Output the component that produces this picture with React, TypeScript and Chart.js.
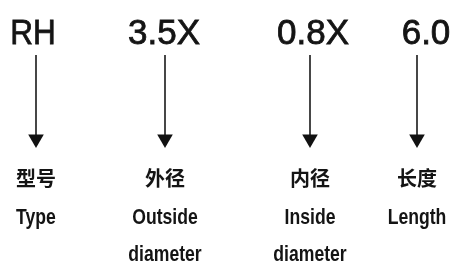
import React, { useEffect, useRef } from "react";
import { Chart, registerables } from "chart.js";

Chart.register(...registerables);

// Model code parts and their meanings
const codes = ["RH", "3.5X", "0.8X", "6.0"];
const namesZh = ["型号", "外径", "内径", "长度"];
const namesEn = [["Type"], ["Outside", "diameter"], ["Inside", "diameter"], ["Length"]];
// horizontal position of each part along the code (layout units)
const partPos = [36, 165, 310, 417];
const codeShift = [-3, -1, 3, 9];

const W = 451;
const H = 266;
const ARROW_TOP = 55;
const ARROW_END = 139;

const textPlugin = {
  id: "codeText",
  afterDatasetsDraw(chart: any) {
    const ctx = chart.ctx as CanvasRenderingContext2D;
    const xs = chart.scales.x;
    const ys = chart.scales.y;
    ctx.save();
    ctx.fillStyle = "#141414";
    ctx.strokeStyle = "#141414";
    ctx.textAlign = "center";
    ctx.textBaseline = "alphabetic";
    codes.forEach((c, i) => {
      const x = xs.getPixelForValue(partPos[i] + codeShift[i]);
      ctx.save();
      ctx.translate(x, ys.getPixelForValue(44));
      ctx.scale(i === 0 ? 0.9 : 1, 1);
      ctx.font = '35px "Liberation Sans", Arial, sans-serif';
      ctx.lineWidth = 0.8;
      ctx.fillText(c, 0, 0);
      ctx.strokeText(c, 0, 0);
      ctx.restore();
    });
    namesZh.forEach((n, i) => {
      const x = xs.getPixelForValue(partPos[i]);
      ctx.font = 'bold 20px "Noto Sans CJK SC", sans-serif';
      ctx.fillText(n, x, ys.getPixelForValue(186));
    });
    namesEn.forEach((lines, i) => {
      const x = xs.getPixelForValue(partPos[i]);
      lines.forEach((l, j) => {
        ctx.save();
        ctx.translate(x, ys.getPixelForValue(224 + j * 37));
        ctx.scale(0.8, 1);
        ctx.font = 'bold 22px "Liberation Sans", Arial, sans-serif';
        ctx.fillText(l, 0, 0);
        ctx.restore();
      });
    });
    ctx.restore();
  },
};

export default function App() {
  const ref = useRef<HTMLCanvasElement>(null);
  useEffect(() => {
    if (!ref.current) return;
    const datasets = partPos.map((p) => ({
      data: [
        { x: p, y: ARROW_TOP },
        { x: p, y: ARROW_END },
      ],
      showLine: true,
      borderColor: "#1a1a1a",
      backgroundColor: "#111",
      borderWidth: 1.6,
      pointRadius: [0, 9],
      pointStyle: "triangle" as const,
      rotation: 180,
      pointBorderWidth: 0,
      pointHoverRadius: [0, 9],
      clip: false as any,
    }));
    const chart = new Chart(ref.current, {
      type: "scatter",
      data: { datasets },
      options: {
        animation: false,
        responsive: false,
        events: [],
        layout: { padding: 0, autoPadding: false },
        plugins: { legend: { display: false }, tooltip: { enabled: false } },
        scales: {
          x: { type: "linear", min: 0, max: W, display: false },
          y: { type: "linear", min: 0, max: H, reverse: true, display: false },
        },
      },
      plugins: [textPlugin],
    });
    return () => chart.destroy();
  }, []);
  return (
    <div style={{ position: "fixed", left: 0, top: 0, width: W, height: H, background: "#fff" }}>
      <canvas ref={ref} width={W} height={H} style={{ width: W, height: H, display: "block" }} />
    </div>
  );
}
